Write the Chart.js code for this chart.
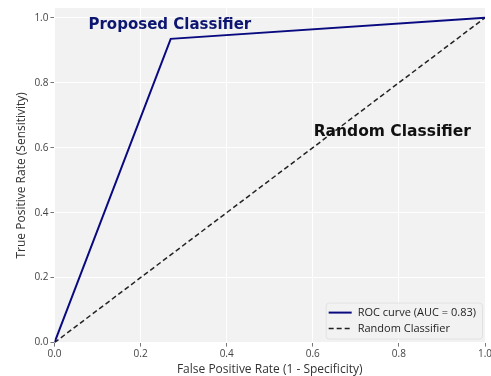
<!DOCTYPE html>
<html>
<head>
<meta charset="utf-8">
<script src="https://cdn.jsdelivr.net/npm/chart.js@4/dist/chart.umd.min.js"></script>
<style>
  html, body { margin: 0; padding: 0; background: #ffffff; }
  #wrap { width: 491px; height: 376px; }
</style>
</head>
<body>
<div id="wrap"><canvas id="roc"></canvas></div>
<script>
// ROC operating points (false positive rate, true positive rate)
const rocFpr = [0.0, 0.27, 1.0];
const rocTpr = [0.0, 0.935, 1.0];
const aucValue = 0.83;

// Chance diagonal
const chanceFpr = [0.0, 1.0];
const chanceTpr = [0.0, 1.0];

// Tick values shown on both axes
const tickValues = [0.0, 0.2, 0.4, 0.6, 0.8, 1.0];

// Text labels placed in data space
const annotations = [
  { text: 'Proposed Classifier', x: 0.079, y: 0.978, color: '#0c1670', size: 15 },
  { text: 'Random Classifier',   x: 0.602, y: 0.648, color: '#111111', size: 15.5 }
];

const toPoints = (xs, ys) => xs.map((x, i) => ({ x, y: ys[i] }));

// Light panel behind the plotting area
const panelBackground = {
  id: 'panelBackground',
  beforeDraw(chart) {
    const { ctx, chartArea: a } = chart;
    ctx.save();
    ctx.fillStyle = '#f2f2f2';
    ctx.fillRect(a.left, a.top, a.right - a.left, a.bottom - a.top);
    ctx.restore();
  }
};

// Bold labels anchored at data coordinates
const textLabels = {
  id: 'textLabels',
  afterDatasetsDraw(chart) {
    const { ctx, scales } = chart;
    ctx.save();
    ctx.textBaseline = 'middle';
    ctx.textAlign = 'left';
    annotations.forEach(a => {
      ctx.font = `bold ${a.size}px "DejaVu Sans", sans-serif`;
      ctx.fillStyle = a.color;
      ctx.fillText(a.text, scales.x.getPixelForValue(a.x), scales.y.getPixelForValue(a.y));
    });
    ctx.restore();
  }
};

// Boxed legend in the lower-right corner of the plotting area
const cornerLegend = {
  id: 'cornerLegend',
  afterDraw(chart) {
    const { ctx, chartArea: a } = chart;
    const sets = chart.data.datasets;
    ctx.save();
    ctx.font = '11px "Open Sans", sans-serif';
    const textW = Math.max(...sets.map(d => ctx.measureText(d.label).width));
    const lineLen = 23, gap = 6, padL = 3, padR = 6, rowH = 16, padY = 2;
    const w = padL + lineLen + gap + textW + padR;
    const h = padY * 2 + rowH * sets.length;
    const x0 = a.right - 3 - w;
    const y0 = a.bottom - 4 - h;
    ctx.fillStyle = 'rgba(242,242,242,0.85)';
    ctx.strokeStyle = '#e2e2e2';
    ctx.lineWidth = 1;
    ctx.beginPath();
    ctx.roundRect(x0 + 0.5, y0 + 0.5, w, h, 3);
    ctx.fill();
    ctx.stroke();
    sets.forEach((d, i) => {
      const cy = y0 + padY + rowH * i + rowH / 2;
      ctx.strokeStyle = d.borderColor;
      ctx.lineWidth = d.borderWidth;
      ctx.setLineDash(d.borderDash || []);
      ctx.beginPath();
      ctx.moveTo(x0 + padL, cy);
      ctx.lineTo(x0 + padL + lineLen, cy);
      ctx.stroke();
      ctx.setLineDash([]);
      ctx.fillStyle = '#1e1e1e';
      ctx.textBaseline = 'middle';
      ctx.fillText(d.label, x0 + padL + lineLen + gap, cy + 0.5);
    });
    ctx.restore();
  }
};

const axisCommon = {
  type: 'linear',
  min: 0,
  border: { display: false },
  grid: { color: '#ffffff', lineWidth: 1, tickColor: '#777777', tickLength: 4, tickWidth: 1 },
  ticks: {
    color: '#444444',
    font: { family: '"Open Sans", sans-serif', size: 10 },
    padding: 2,
    includeBounds: false,
    callback: v => v.toFixed(1)
  },
  afterBuildTicks(scale) {
    scale.ticks = tickValues.map(v => ({ value: v }));
  }
};

new Chart(document.getElementById('roc'), {
  type: 'scatter',
  data: {
    datasets: [
      {
        label: `ROC curve (AUC = ${aucValue.toFixed(2)})`,
        data: toPoints(rocFpr, rocTpr),
        showLine: true,
        borderColor: '#0a0a80',
        borderWidth: 2,
        pointRadius: 0,
        fill: false,
        tension: 0
      },
      {
        label: 'Random Classifier',
        data: toPoints(chanceFpr, chanceTpr),
        showLine: true,
        borderColor: '#222222',
        borderWidth: 1.5,
        borderDash: [5, 3],
        pointRadius: 0,
        fill: false,
        tension: 0
      }
    ]
  },
  options: {
    responsive: true,
    maintainAspectRatio: false,
    animation: false,
    layout: { padding: { top: 3, right: 0, bottom: 0, left: 14 } },
    plugins: { legend: { display: false }, tooltip: { enabled: false } },
    scales: {
      x: Object.assign({}, axisCommon, {
        max: 1.0,
        // let the last tick label run up to the canvas edge
        afterFit(scale) { scale.paddingRight = 6; },
        title: {
          display: true,
          text: 'False Positive Rate (1 - Specificity)',
          color: '#333333',
          font: { family: '"Open Sans", sans-serif', size: 12 },
          padding: { top: 0, bottom: -1 }
        }
      }),
      y: Object.assign({}, axisCommon, {
        max: 1.03,
        title: {
          display: true,
          text: 'True Positive Rate (Sensitivity)',
          color: '#333333',
          font: { family: '"Open Sans", sans-serif', size: 12 },
          padding: { top: 0, bottom: 4 }
        }
      })
    }
  },
  plugins: [panelBackground, textLabels, cornerLegend]
});
</script>
</body>
</html>
